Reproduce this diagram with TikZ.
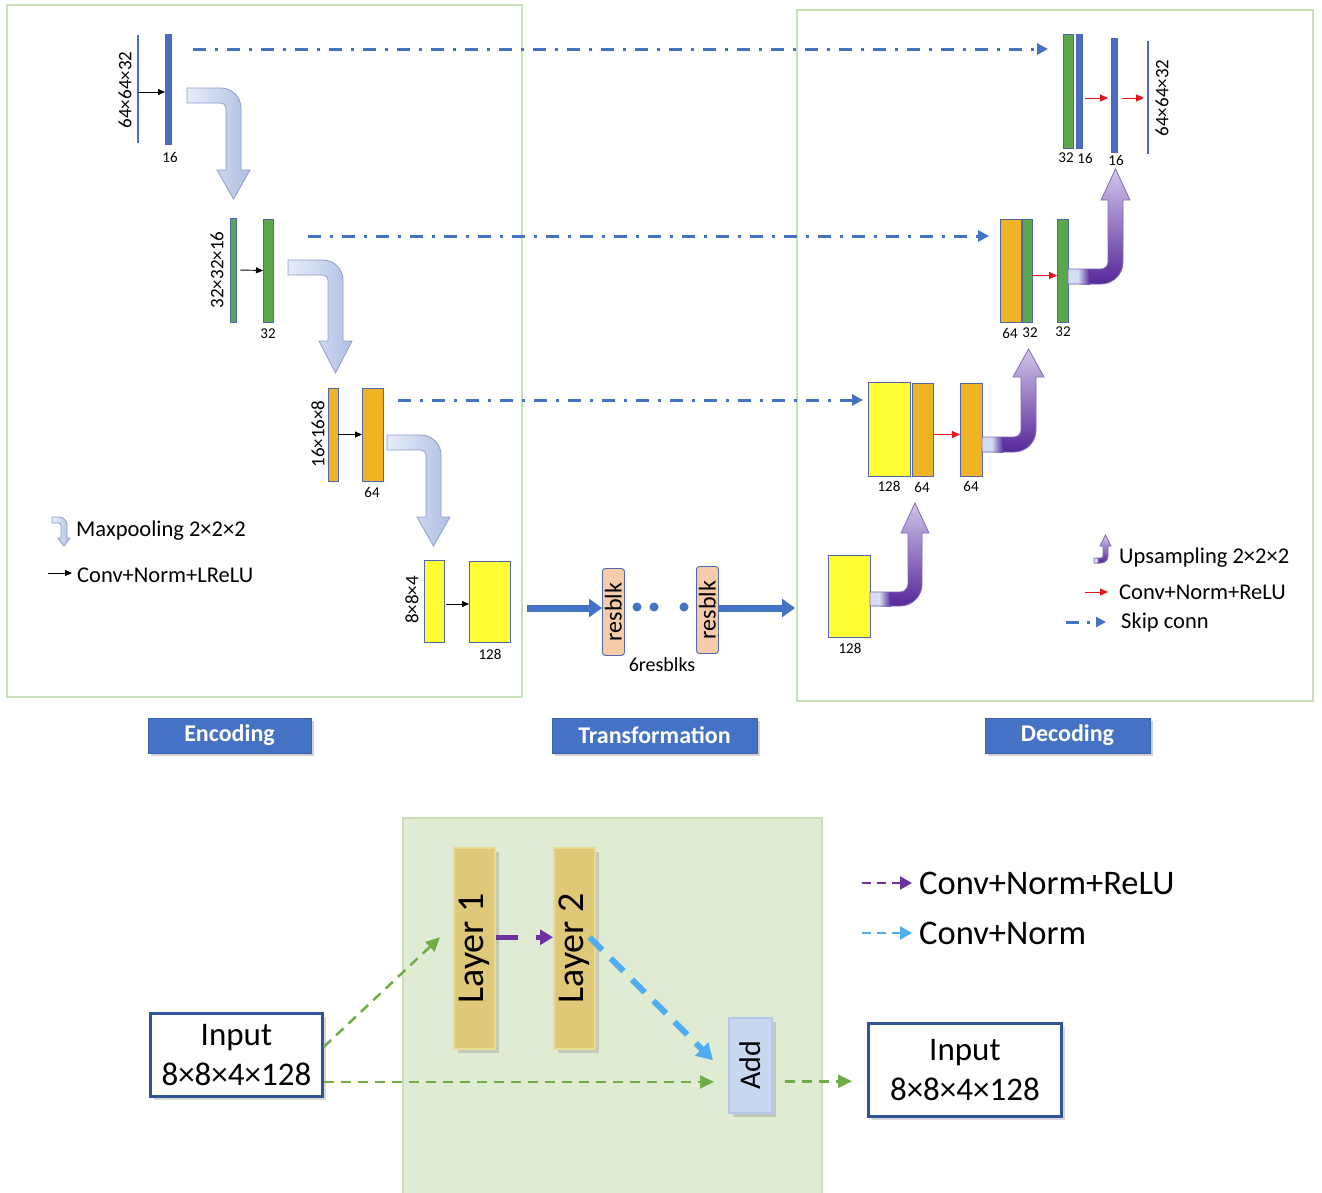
\documentclass[tikz,border=0pt]{standalone}
\usepackage{fontspec}
\usepackage{graphicx}
\setmainfont{Carlito}
\usetikzlibrary{arrows.meta,shadows,calc}

\definecolor{barblue}{HTML}{4A6CC4}
\definecolor{bargreen}{HTML}{5AA84A}
\definecolor{barorange}{HTML}{F0B323}
\definecolor{baryellow}{HTML}{FFFF33}
\definecolor{barline}{HTML}{4F66B0}
\definecolor{framegreen}{HTML}{C8E0B8}
\definecolor{skipblue}{HTML}{4472C4}
\definecolor{convred}{HTML}{E8141C}
\definecolor{poolL}{HTML}{E8EDF8}
\definecolor{poolR}{HTML}{AFBFE3}
\definecolor{poolline}{HTML}{8A9DCF}
\definecolor{upTop}{HTML}{D2C6EA}
\definecolor{upMid}{HTML}{A48BCF}
\definecolor{upBot}{HTML}{56279A}
\definecolor{upline}{HTML}{7E6AB8}
\definecolor{upstart}{HTML}{D3DCF2}
\definecolor{resfill}{HTML}{F5CBAA}
\definecolor{panelgreen}{HTML}{DFEBD2}
\definecolor{panelline}{HTML}{C9DFB6}
\definecolor{layerfill}{HTML}{DFC878}
\definecolor{layerline}{HTML}{EBDA92}
\definecolor{addfill}{HTML}{C7D8F0}
\definecolor{addline}{HTML}{B3C7E8}
\definecolor{boxblue}{HTML}{2F5597}
\definecolor{dashpurple}{HTML}{7030A0}
\definecolor{dashblue}{HTML}{4FAEEF}
\definecolor{dashgreen}{HTML}{70AD47}
\definecolor{tagblue}{HTML}{4472C4}
\definecolor{tagline}{HTML}{3A62AE}

\newcommand\fsz[1]{\fontsize{#1}{#1}\selectfont}

% bent arrow pointing down: opts, x0, band top, inner x of stem, thickness, outer radius, head base y, tip y, head overhang
\newcommand\poolpath[9]{%
  \pgfmathsetmacro\pXr{#4+#5}%
  \pgfmathsetmacro\pXc{#4+#5-#6}%
  \pgfmathsetmacro\pKa{#4+#5-#6+0.552*#6}%
  \pgfmathsetmacro\pYa{#3+#6}%
  \pgfmathsetmacro\pKb{#3+#6-0.552*#6}%
  \pgfmathsetmacro\pRi{#6-#5}%
  \pgfmathsetmacro\pYb{#3+#5}%
  \pgfmathsetmacro\pYc{#3+#5+\pRi}%
  \pgfmathsetmacro\pKc{\pYc-0.552*\pRi}%
  \pgfmathsetmacro\pXd{#4-\pRi}%
  \pgfmathsetmacro\pKd{\pXd+0.552*\pRi}%
  \pgfmathsetmacro\pXm{#4+0.5*#5}%
  \pgfmathsetmacro\pXl{#4-#9}%
  \pgfmathsetmacro\pXh{\pXr+#9}%
  \path[#1] (#2,#3) -- (\pXc,#3) .. controls (\pKa,#3) and (\pXr,\pKb) .. (\pXr,\pYa)
    -- (\pXr,#7) -- (\pXh,#7) -- (\pXm,#8) -- (\pXl,#7) -- (#4,#7) -- (#4,\pYc)
    .. controls (#4,\pKc) and (\pKd,\pYb) .. (\pXd,\pYb) -- (#2,\pYb) -- cycle;
}
% bent arrow pointing up: opts, x0, band bottom, inner x of stem, thickness, outer radius, head base y, tip y, head overhang
\newcommand\uppath[9]{%
  \pgfmathsetmacro\pXr{#4+#5}%
  \pgfmathsetmacro\pXc{#4+#5-#6}%
  \pgfmathsetmacro\pKa{#4+#5-#6+0.552*#6}%
  \pgfmathsetmacro\pYa{#3-#6}%
  \pgfmathsetmacro\pKb{#3-#6+0.552*#6}%
  \pgfmathsetmacro\pRi{#6-#5}%
  \pgfmathsetmacro\pYb{#3-#5}%
  \pgfmathsetmacro\pYc{#3-#5-\pRi}%
  \pgfmathsetmacro\pKc{\pYc+0.552*\pRi}%
  \pgfmathsetmacro\pXd{#4-\pRi}%
  \pgfmathsetmacro\pKd{\pXd+0.552*\pRi}%
  \pgfmathsetmacro\pXm{#4+0.5*#5}%
  \pgfmathsetmacro\pXl{#4-#9}%
  \pgfmathsetmacro\pXh{\pXr+#9}%
  \path[#1] (#2,#3) -- (\pXc,#3) .. controls (\pKa,#3) and (\pXr,\pKb) .. (\pXr,\pYa)
    -- (\pXr,#7) -- (\pXh,#7) -- (\pXm,#8) -- (\pXl,#7) -- (#4,#7) -- (#4,\pYc)
    .. controls (#4,\pKc) and (\pKd,\pYb) .. (\pXd,\pYb) -- (#2,\pYb) -- cycle;
}
\newcommand\maxpool[8]{\poolpath{poolshape}{#1}{#2}{#3}{#4}{#5}{#6}{#7}{#8}}
\newcommand\upsample[8]{%
  \uppath{upfill}{#1}{#2}{#3}{#4}{#5}{#6}{#7}{#8}%
  \pgfmathsetmacro\uA{#1+0.25*(#3-#1)}%
  \pgfmathsetmacro\uB{#1+0.55*(#3-#1)}%
  \pgfmathsetmacro\uT{#2-#4}%
  \fill[upstart] (#1,\uT) rectangle (\uA,#2);
  \fill[left color=upstart,right color=upBot] (\uA,\uT) rectangle (\uB,#2);
  \uppath{upline}{#1}{#2}{#3}{#4}{#5}{#6}{#7}{#8}%
}

\begin{document}
\begin{tikzpicture}[x=1pt,y=-1pt,
  bar/.style={draw=barline, line width=0.9pt, inner sep=0pt, outer sep=0pt, anchor=north west},
  dimlabel/.style={rotate=90, font=\fsz{19}, inner sep=0pt},
  chlabel/.style={font=\fsz{15}, inner sep=0pt},
  convblk/.style={-{Triangle[length=7pt,width=6pt]}, line width=0.9pt, black},
  convrd/.style={-{Triangle[length=8pt,width=7pt]}, line width=0.9pt, convred},
  skip/.style={skipblue, line width=3pt, dash pattern=on 13pt off 9pt on 3pt off 9pt, -{Triangle[length=11pt,width=11pt]}},
  frame/.style={draw=framegreen, line width=2pt},
  poolshape/.style={left color=poolL, right color=poolR, draw=poolline, line width=0.8pt},
  upfill/.style={top color=upTop, middle color=upMid, bottom color=upBot},
  upline/.style={draw=upline, line width=0.8pt},
  legendtxt/.style={font=\fsz{22.5}, anchor=west, inner sep=0pt},
  tag/.style={fill=tagblue, draw=tagline, line width=0.8pt, text=white, font=\fsz{24}\bfseries, minimum height=35pt, inner sep=0pt,
    drop shadow={shadow xshift=3pt, shadow yshift=-3pt, opacity=0.35}},
  resblock/.style={draw=barline, fill=resfill, line width=0.9pt, rounded corners=3pt, minimum width=22pt, minimum height=87pt, inner sep=0pt, anchor=north west, font=\fsz{24}},
  dot/.style={circle, fill=skipblue, minimum size=9pt, inner sep=0pt},
  trarrow/.style={skipblue, line width=7pt, -{Triangle[length=13pt,width=18pt]}},
  layer/.style={fill=layerfill, draw=layerline, line width=1.5pt, minimum width=41pt, minimum height=201pt, inner sep=0pt, anchor=north west, font=\fsz{38},
    drop shadow={shadow xshift=4pt, shadow yshift=-4pt, opacity=0.3}},
  addbox/.style={fill=addfill, draw=addline, line width=1.5pt, minimum width=43pt, minimum height=95pt, inner sep=0pt, anchor=north west, font=\fsz{30},
    drop shadow={shadow xshift=4pt, shadow yshift=-4pt, opacity=0.3}},
  iobox/.style={draw=boxblue, line width=2.8pt, fill=white, align=center, font=\fontsize{33}{40}\selectfont, inner sep=0pt, anchor=north west,
    drop shadow={shadow xshift=4pt, shadow yshift=-4pt, opacity=0.3}},
  biglegend/.style={font=\fsz{34.5}, anchor=west, inner sep=0pt},
  purparrow/.style={dashpurple, line width=4.5pt, dash pattern=on 22pt off 18pt, -{Triangle[length=13pt,width=15pt]}},
  bluearrow/.style={dashblue, line width=6pt, dash pattern=on 18pt off 12pt, -{Triangle[length=16pt,width=18pt]}},
  greenarrow/.style={dashgreen, line width=2.5pt, dash pattern=on 10pt off 7pt, -{Triangle[length=14pt,width=13pt]}},
  legpurple/.style={dashpurple, line width=2.5pt, dash pattern=on 9pt off 6pt, -{Triangle[length=12pt,width=13pt]}},
  legblue/.style={dashblue, line width=2.5pt, dash pattern=on 9pt off 6pt, -{Triangle[length=12pt,width=13pt]}}
]
\useasboundingbox (0,0) rectangle (1322,1192);
\fill[white] (0,0) rectangle (1322,1192);

% ---------- frames ----------
\draw[frame] (7,5) rectangle (522,697);
\draw[frame] (797,10) rectangle (1313,701);

% ---------- skip connections ----------
\coordinate (s1a) at (193,49);  \coordinate (s1b) at (1048,49);
\coordinate (s2a) at (308,236); \coordinate (s2b) at (989,236);
\coordinate (s3a) at (398,400); \coordinate (s3b) at (863,400);
\draw[skip] (s1a) -- (s1b);
\draw[skip] (s2a) -- (s2b);
\draw[skip] (s3a) -- (s3b);

% ---------- encoder ----------
\node[bar, draw=none, fill=barblue, minimum width=1.8pt, minimum height=108pt] (e1a) at (137.1,35) {};
\node[bar, fill=barblue, minimum width=6pt, minimum height=110pt] (e1b) at (165,34) {};
\node[dimlabel] (e1d) at (125,90) {64×64×32};
\node[chlabel] (e1n) at (170,157) {16};
\draw[convblk] ([yshift=-3pt]e1a.east) -- ([yshift=-3pt]e1a.east -| e1b.west);

\node[bar, fill=bargreen, minimum width=6pt, minimum height=104pt] (e2a) at (230,218) {};
\node[bar, fill=bargreen, minimum width=10pt, minimum height=103pt] (e2b) at (263,219) {};
\node[dimlabel] (e2d) at (217,270) {32×32×16};
\node[chlabel] (e2n) at (268,334) {32};
\draw[convblk] ([xshift=4pt]e2a.east) -- (e2b.west);

\node[bar, fill=barorange, minimum width=10pt, minimum height=93pt] (e3a) at (328,388) {};
\node[bar, fill=barorange, minimum width=21pt, minimum height=93pt] (e3b) at (362,388) {};
\node[dimlabel] (e3d) at (318,434) {16×16×8};
\node[chlabel] (e3n) at (372,492) {64};
\draw[convblk] (e3a.east) -- (e3b.west);

\node[bar, fill=baryellow, minimum width=20pt, minimum height=82pt] (e4a) at (424,560) {};
\node[bar, fill=baryellow, minimum width=41pt, minimum height=81pt] (e4b) at (469,561) {};
\node[dimlabel] (e4d) at (412,600) {8×8×4};
\node[chlabel] (e4n) at (490,654) {128};
\draw[convblk] ([xshift=2pt,yshift=-3pt]e4a.east) -- ([yshift=-3pt]e4a.east -| e4b.west);

% max pooling arrows
\maxpool{187}{88}{226}{15}{20}{170}{199}{9}
\maxpool{288}{260}{328}{15}{20}{341}{373}{9}
\maxpool{387}{435}{426}{15}{20}{517}{546}{9}

% encoder legend
\maxpool{52}{517}{61}{6}{8}{538}{546}{3}
\node[legendtxt] (lg1) at (76,531) {Maxpooling 2×2×2};
\coordinate (lg2a) at (48,573); \coordinate (lg2b) at (72,573);
\draw[convblk] (lg2a) -- (lg2b);
\node[legendtxt] (lg2) at (77,575) {Conv+Norm+LReLU};

% ---------- transformation ----------
\node[resblock] (R1) at (602,568) {\rotatebox{90}{resblk}};
\node[resblock] (R2) at (696,566) {\rotatebox{90}{resblk}};
\coordinate (trin) at (527,608);
\coordinate (trout) at (795,608);
\draw[trarrow] (trin) -- (trin -| R1.west);
\draw[trarrow] (R2.east |- trout) -- (trout);
\node[dot] (dt1) at (637,607) {};
\node[dot] (dt2) at (654,607) {};
\node[dot] (dt3) at (684,607) {};
\node[font=\fsz{20}, inner sep=0pt] (nres) at (662,665) {6resblks};

% ---------- decoder ----------
\node[bar, fill=baryellow, minimum width=42pt, minimum height=82pt] (d4) at (828,555) {};
\node[chlabel] (d4n) at (850,648) {128};
\upsample{870}{606}{908}{14}{22}{533}{503}{7}

\node[bar, fill=baryellow, minimum width=42pt, minimum height=94pt] (d3a) at (868,382) {};
\node[bar, fill=barorange, minimum width=21pt, minimum height=93pt] (d3b) at (912,383) {};
\node[bar, fill=barorange, minimum width=22pt, minimum height=93pt] (d3c) at (960,383) {};
\node[chlabel] (d3an) at (889,486) {128};
\node[chlabel] (d3bn) at (922,487) {64};
\node[chlabel] (d3cn) at (971,486) {64};
\draw[convrd] ([yshift=-5pt]d3b.east) -- ([yshift=-5pt]d3b.east -| d3c.west);
\upsample{982}{452}{1021}{15}{22}{377}{349}{8}

\node[bar, fill=barorange, minimum width=21pt, minimum height=103pt] (d2a) at (1000,219) {};
\node[bar, fill=bargreen, minimum width=10pt, minimum height=103pt] (d2b) at (1022,219) {};
\node[bar, fill=bargreen, minimum width=11pt, minimum height=103pt] (d2c) at (1057,219) {};
\node[chlabel] (d2an) at (1010,333) {64};
\node[chlabel] (d2bn) at (1030,333) {32};
\node[chlabel] (d2cn) at (1063,332) {32};
\draw[convrd] ([yshift=-5pt]d2b.east) -- ([yshift=-5pt]d2b.east -| d2c.west);
\upsample{1068}{284}{1108}{15}{22}{200}{169}{7}

\node[bar, fill=bargreen, minimum width=10pt, minimum height=114pt] (d1a) at (1063,34) {};
\node[bar, fill=barblue, minimum width=6pt, minimum height=114pt] (d1b) at (1076,34) {};
\node[bar, fill=barblue, minimum width=6pt, minimum height=114pt] (d1c) at (1111,38) {};
\node[bar, draw=none, fill=barblue, minimum width=1.8pt, minimum height=113pt] (d1d) at (1147.1,41) {};
\node[chlabel] (d1an) at (1066,158) {32};
\node[chlabel] (d1bn) at (1085,158) {16};
\node[chlabel] (d1cn) at (1116,160) {16};
\node[dimlabel] (d1dl) at (1162,98) {64×64×32};
\draw[convrd, shorten <=3pt, shorten >=3pt] ([yshift=-7pt]d1b.east) -- ([yshift=-7pt]d1b.east -| d1c.west);
\draw[convrd, shorten <=5pt, shorten >=3pt] ([yshift=-3pt]d1c.east) -- ([yshift=-3pt]d1c.east -| d1d.west);

% decoder legend
\upsample{1094}{563}{1103}{5}{7}{546}{535}{3}
\node[legendtxt] (lg3) at (1119,558) {Upsampling 2×2×2};
\coordinate (lg4a) at (1085,592); \coordinate (lg4b) at (1108,592);
\draw[convrd] (lg4a) -- (lg4b);
\node[legendtxt] (lg4) at (1119,592) {Conv+Norm+ReLU};
\coordinate (lg5a) at (1066,622); \coordinate (lg5b) at (1106,622);
\draw[skip, dash pattern=on 13pt off 8pt on 3pt off 6pt, -{Triangle[length=10pt,width=10pt]}] (lg5a) -- (lg5b);
\node[legendtxt] (lg5) at (1121,622) {Skip conn};

% ---------- section tags ----------
\node[tag, minimum width=163pt] (tEnc) at (229.5,735.5) {Encoding};
\node[tag, minimum width=205pt] (tTr) at (654.5,735.5) {Transformation};
\node[tag, minimum width=165pt] (tDec) at (1067.5,735.5) {Decoding};

% ---------- residual block detail ----------
\draw[fill=panelgreen, draw=panelline, line width=1.5pt] (403,818) rectangle (822,1200);
\node[layer] (L1) at (453,847) {\rotatebox{90}{Layer 1}};
\node[layer] (L2) at (553,847) {\rotatebox{90}{Layer 2}};
\node[addbox] (Add) at (728,1017) {\rotatebox{90}{Add}};
\node[iobox, minimum width=172pt, minimum height=83pt] (In) at (149,1012) {Input\\8×8×4×128};
\node[iobox, minimum width=193pt, minimum height=93pt] (Out) at (867,1022) {Input\\8×8×4×128};

\draw[purparrow] ([yshift=11pt]L1.east) -- ([yshift=11pt]L2.west);
\draw[bluearrow] ([xshift=-6pt,yshift=11pt]L2.east) -- ([xshift=-15pt,yshift=5pt]Add.west);
\draw[greenarrow] ([yshift=8pt]In.east) -- ([xshift=-13pt,yshift=11pt]L1.west);
\draw[greenarrow, shorten >=14pt] ([yshift=-27pt]In.east) -- ([yshift=-27pt]In.east -| Add.west);
\draw[greenarrow, shorten <=12pt, shorten >=15pt] ([yshift=-16pt]Add.east) -- ([yshift=-16pt]Add.east -| Out.west);

% legend
\coordinate (bl1a) at (862,883); \coordinate (bl1b) at (912,883);
\coordinate (bl2a) at (862,933); \coordinate (bl2b) at (912,933);
\draw[legpurple] (bl1a) -- (bl1b);
\draw[legblue] (bl2a) -- (bl2b);
\node[biglegend] (bt1) at (919,883) {Conv+Norm+ReLU};
\node[biglegend] (bt2) at (919,933) {Conv+Norm};
\end{tikzpicture}
\end{document}
